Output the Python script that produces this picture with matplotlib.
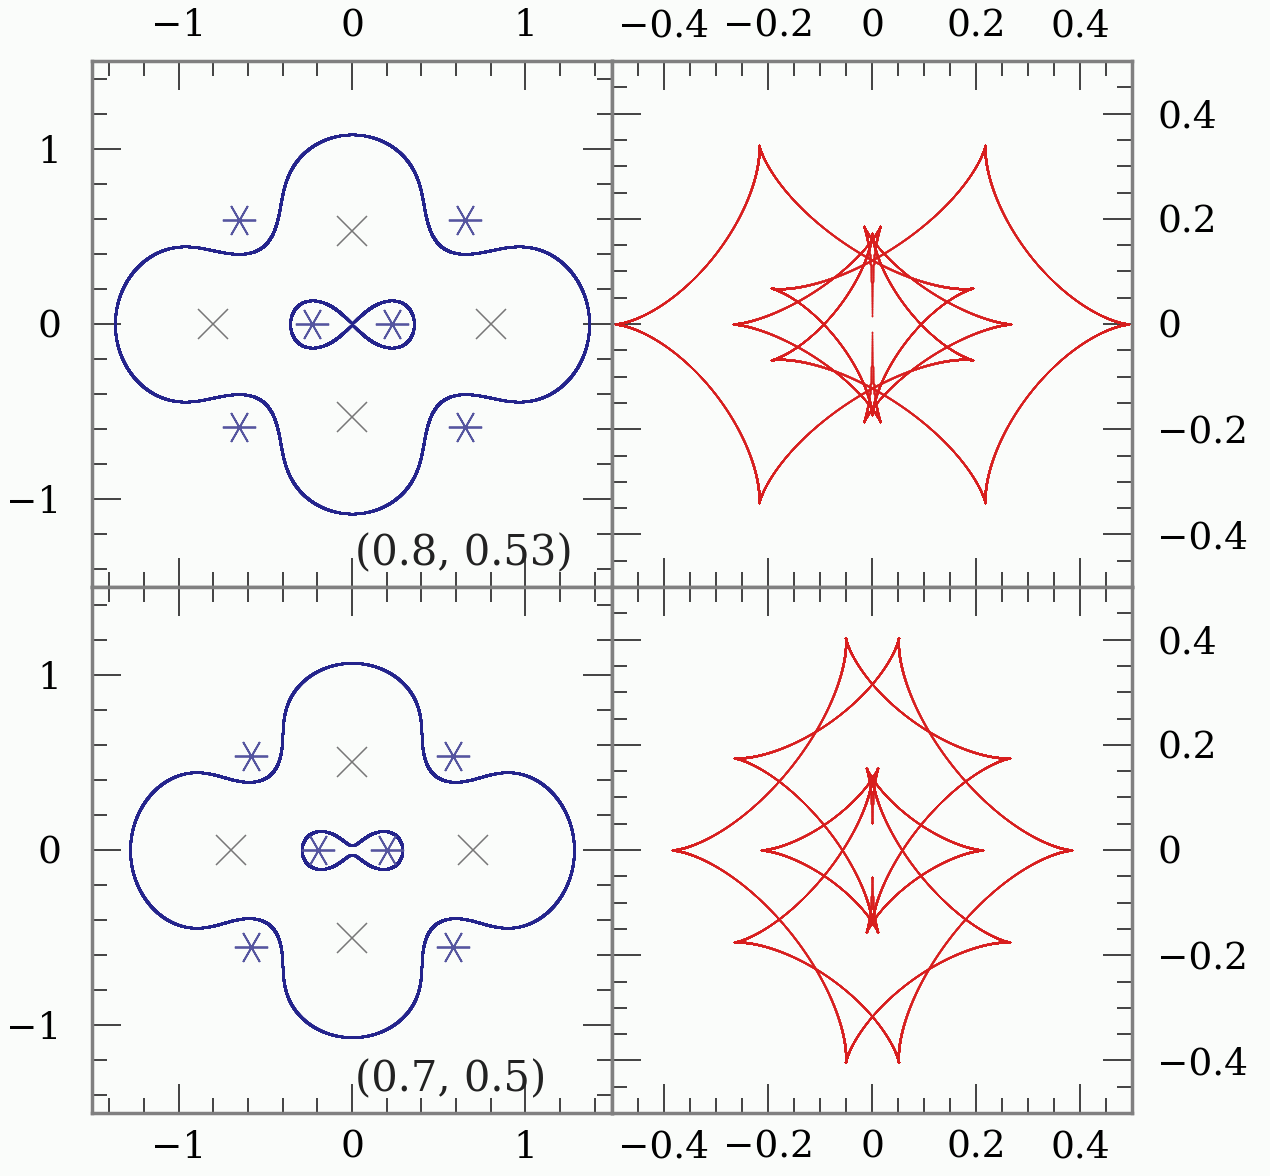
import numpy as np
import matplotlib.pyplot as plt
from matplotlib.ticker import MultipleLocator

# lens configurations (a, b): four equal masses at (+-a, 0) and (0, +-b)
configs = [(0.8, 0.53), (0.7, 0.5)]
labels = ["(0.8, 0.53)", "(0.7, 0.5)"]
mass = 0.25

# asterisk positions
star_x = [[-0.65, 0.65, -0.65, 0.65, -0.23, 0.23],
          [-0.58, 0.585, -0.58, 0.585, -0.197, 0.2]]
star_y = [[0.595, 0.595, -0.59, -0.59, 0.0, 0.0],
          [0.534, 0.534, -0.551, -0.551, 0.0, 0.0]]

BLUE = '#24248c'
STAR = '#55559f'
RED = '#d81e1e'
GREY = '#777777'
BG = '#fafcfa'

plt.rcParams['font.family'] = ['DejaVu Serif']


def lens_curves(a, b, n=12000):
    zs = np.array([a, -a, 1j * b, -1j * b])
    facs = [np.poly1d([1, -z]) ** 2 for z in zs]
    full = facs[0] * facs[1] * facs[2] * facs[3]
    num = np.poly1d([0])
    for i in range(4):
        p = np.poly1d([mass])
        for j in range(4):
            if j != i:
                p = p * facs[j]
        num = num + p
    crit = []
    for phi in np.linspace(0, 2 * np.pi, n, endpoint=False):
        crit.extend(np.roots((num - np.exp(1j * phi) * full).coeffs))
    crit = np.array(crit)
    caus = crit - sum(mass / np.conj(crit - z) for z in zs)
    return crit, caus, zs


def style(ax, lim, major, minor):
    ax.set_facecolor(BG)
    ax.set_xlim(-lim, lim)
    ax.set_ylim(-lim, lim)
    for s in ax.spines.values():
        s.set_color('#808080')
        s.set_linewidth(2.5)
    for axis in (ax.xaxis, ax.yaxis):
        axis.set_major_locator(MultipleLocator(major))
        axis.set_minor_locator(MultipleLocator(minor))
    ax.tick_params(which='both', direction='in', top=True, bottom=True,
                   left=True, right=True, color='#333333', width=1.3,
                   labelsize=27)
    ax.tick_params(which='major', length=21)
    ax.tick_params(which='minor', length=11)


fig = plt.figure(figsize=(12.7, 11.76), dpi=100, facecolor=BG)
W = 520 / 1270
H = 526 / 1176
positions = [
    ([92 / 1270, 1 - 587 / 1176, W, H], [612 / 1270, 1 - 587 / 1176, W, H]),
    ([92 / 1270, 1 - 1113 / 1176, W, H], [612 / 1270, 1 - 1113 / 1176, W, H]),
]

for row, ((a, b), text) in enumerate(zip(configs, labels)):
    crit, caus, zs = lens_curves(a, b)
    axl = fig.add_axes(positions[row][0])
    axr = fig.add_axes(positions[row][1])

    axl.plot(crit.real, crit.imag, '.', color=BLUE, ms=3.0, mew=0)
    axl.plot(zs.real, zs.imag, 'x', color=GREY, ms=22, mew=1.1, ls='none')
    axl.plot(star_x[row], star_y[row], ls='none', marker=(6, 2, 90),
             color=STAR, ms=24, mew=1.3)
    axl.text(0.02, -1.31, text, fontsize=30, ha='left', va='center',
             color='#222222')

    axr.plot(caus.real, caus.imag, '.', color=RED, ms=1.9, mew=0)

    style(axl, 1.5, 1, 0.2)
    style(axr, 0.5, 0.2, 0.05)

    if row == 0:
        axl.tick_params(labeltop=True, labelbottom=False, labelleft=True, pad=12)
        axr.tick_params(labeltop=True, labelbottom=False, labelleft=False,
                        labelright=True, pad=12)
    else:
        axl.tick_params(labeltop=False, labelbottom=True, labelleft=True, pad=12)
        axr.tick_params(labeltop=False, labelbottom=True, labelleft=False,
                        labelright=True, pad=12)
    axl.tick_params(axis='y', pad=22)
    axr.tick_params(axis='y', pad=18)
    axr.set_xticks([-0.4, -0.2, 0, 0.2, 0.4])
    axr.set_xticklabels(['\u22120.4', '\u22120.2', '0', '0.2', '0.4'])
    axr.set_yticks([-0.4, -0.2, 0, 0.2, 0.4])
    axr.set_yticklabels(['\u22120.4', '\u22120.2', '0', '0.2', '0.4'])
    axl.set_xticks([-1, 0, 1])
    axl.set_yticks([-1, 0, 1])

fig.savefig('out.png', dpi=100, facecolor=BG)
